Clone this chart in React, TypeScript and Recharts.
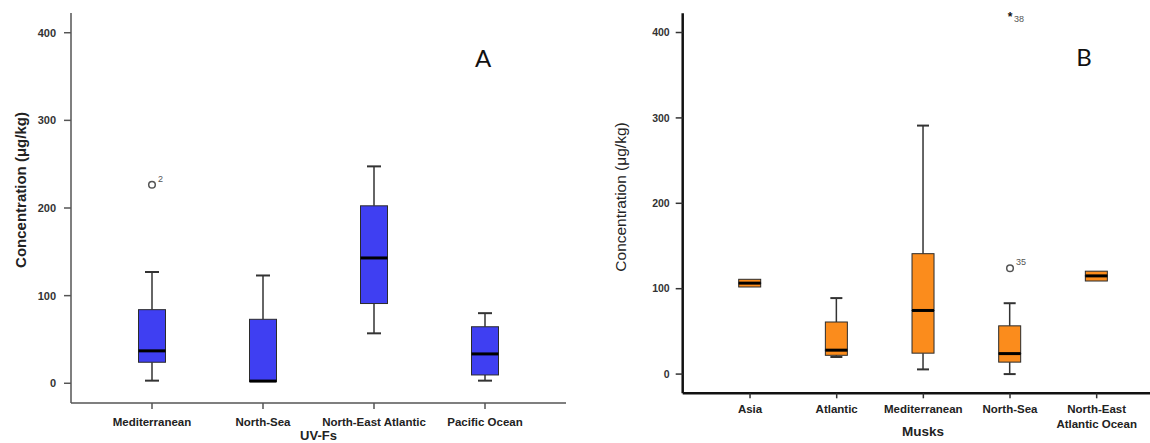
import { ComposedChart, Bar, Line, XAxis, YAxis } from 'recharts';

// Panel A - UV-Fs
const uvCategories = ['Mediterranean', 'North-Sea', 'North-East Atlantic', 'Pacific Ocean'];
const uvMin = [3, 2, 57, 3];
const uvQ1 = [24, 2, 91, 9.5];
const uvMedian = [37, 2.5, 143, 33.5];
const uvQ3 = [84, 73, 202.5, 64.5];
const uvMax = [127, 123, 247.5, 80];
const uvOutliers = [226.5, null, null, null];
const uvOutlierIds = ['2', null, null, null];

// Panel B - Musks
const muskCategories = ['Asia', 'Atlantic', 'Mediterranean', 'North-Sea', 'North-East\nAtlantic Ocean'];
const muskMin = [102, 20, 5.5, 0, 109];
const muskQ1 = [102, 22, 24.5, 14, 109];
const muskMedian = [106.5, 28, 74.5, 24, 115];
const muskQ3 = [111, 61, 141, 56.5, 120.5];
const muskMax = [111, 89, 291, 83, 120.5];
const muskOutliers = [null, null, null, 124, null];
const muskOutlierIds = [null, null, null, '35', null];
const muskExtremes = [null, null, null, 421.5, null];
const muskExtremeIds = [null, null, null, '38', null];

const yTicks = [0, 100, 200, 300, 400];

const FONT = '"Liberation Sans", Arial, sans-serif';

const buildRows = (
	cats: string[],
	min: number[],
	q1: number[],
	med: number[],
	q3: number[],
	max: number[],
	outlier: (number | null)[],
	extreme: (number | null)[],
) =>
	cats.map((name, i) => ({
		name,
		base: min[i],
		whiskerLow: q1[i] - min[i],
		boxLow: med[i] - q1[i],
		boxHigh: q3[i] - med[i],
		whiskerHigh: max[i] - q3[i],
		outlier: outlier[i],
		extreme: extreme[i],
	}));

const uvRows = buildRows(uvCategories, uvMin, uvQ1, uvMedian, uvQ3, uvMax, uvOutliers, uvOutliers.map(() => null));
const muskRows = buildRows(muskCategories, muskMin, muskQ1, muskMedian, muskQ3, muskMax, muskOutliers, muskExtremes);

const whiskerShape = (cap: number, side: 'low' | 'high') => (props: any) => {
	const { x, y, width, height } = props;
	if (!height || height < 0.5) return <g />;
	const cx = x + width / 2;
	const capY = side === 'low' ? y + height : y;
	return (
		<g>
			<line x1={cx} x2={cx} y1={y} y2={y + height} stroke="#333" strokeWidth={1.5} />
			<line x1={cx - cap / 2} x2={cx + cap / 2} y1={capY} y2={capY} stroke="#333" strokeWidth={2} />
		</g>
	);
};

const boxShape = (fill: string, median: boolean) => (props: any) => {
	const { x, y, width, height } = props;
	const h = Math.max(height || 0, 0);
	return (
		<g>
			<rect x={x} y={y} width={width} height={h} fill={fill} stroke="#2b2b2b" strokeWidth={1} />
			{median && <line x1={x} x2={x + width} y1={y + h} y2={y + h} stroke="#000" strokeWidth={3} />}
		</g>
	);
};

const outlierDot = (ids: (string | null)[], kind: 'circle' | 'star') => (props: any) => {
	const { cx, cy, index, value } = props;
	if (value == null || cy == null || isNaN(cy)) return <g key={`${kind}-${index}`} />;
	if (kind === 'circle') {
		return (
			<g key={`${kind}-${index}`}>
				<circle cx={cx} cy={cy} r={3.3} fill="#fff" stroke="#555" strokeWidth={1.5} />
				<text x={cx + 6} y={cy - 3} fontSize={9} fill="#555" fontFamily={FONT}>
					{ids[index]}
				</text>
			</g>
		);
	}
	return (
		<g key={`${kind}-${index}`}>
			<text x={cx} y={cy + 7} fontSize={12} fontWeight="bold" fill="#111" textAnchor="middle" fontFamily={FONT}>
				*
			</text>
			<text x={cx + 4} y={cy + 8} fontSize={9} fill="#555" fontFamily={FONT}>
				{ids[index]}
			</text>
		</g>
	);
};

const CatTick = (props: any) => {
	const { x, y, payload, fontSize } = props;
	const lines = String(payload.value).split('\n');
	return (
		<text x={x} y={y} textAnchor="middle" fontSize={fontSize} fontWeight="bold" fill="#222" fontFamily={FONT}>
			{lines.map((l, i) => (
				<tspan key={i} x={x} dy={i === 0 ? '0.71em' : '1.25em'}>
					{l}
				</tspan>
			))}
		</text>
	);
};

const BoxSeries = (fill: string, size: number, cap: number) => [
	<Bar key="base" dataKey="base" stackId="s" fill="transparent" barSize={size} isAnimationActive={false} />,
	<Bar key="wl" dataKey="whiskerLow" stackId="s" barSize={size} shape={whiskerShape(cap, 'low')} isAnimationActive={false} />,
	<Bar key="bl" dataKey="boxLow" stackId="s" barSize={size} shape={boxShape(fill, false)} isAnimationActive={false} />,
	<Bar key="bh" dataKey="boxHigh" stackId="s" barSize={size} shape={boxShape(fill, true)} isAnimationActive={false} />,
	<Bar key="wh" dataKey="whiskerHigh" stackId="s" barSize={size} shape={whiskerShape(cap, 'high')} isAnimationActive={false} />,
];

const PanelA = () => (
	<ComposedChart width={580} height={443} data={uvRows} margin={{ top: 13, right: 14, left: 0, bottom: 0 }}>
		<XAxis
			dataKey="name"
			height={40}
			interval={0}
			padding={{ left: 25.5, right: 25.5 }}
			axisLine={{ stroke: '#555', strokeWidth: 1.5 }}
			tickLine={{ stroke: '#555', strokeWidth: 1.5 }}
			tickSize={6}
			tickMargin={9}
			tick={(p: any) => <CatTick {...p} fontSize={11.5} />}
		/>
		<XAxis xAxisId="top" dataKey="name" orientation="top" height={0} tick={false} tickLine={false} axisLine={{ stroke: '#555', strokeWidth: 1.5 }} />
		<YAxis
			type="number"
			domain={[-22.5, 422.5]}
			ticks={yTicks}
			width={71}
			axisLine={{ stroke: '#555', strokeWidth: 1.5 }}
			tickLine={{ stroke: '#555', strokeWidth: 1.5 }}
			tickSize={7}
			tickMargin={8}
			tick={{ fontSize: 11, fontWeight: 'bold', fill: '#333', fontFamily: FONT }}
		/>
		<YAxis yAxisId="right" orientation="right" width={0} domain={[0, 1]} tick={false} tickLine={false} axisLine={{ stroke: '#555', strokeWidth: 1.5 }} />
		{BoxSeries('#3f3ff2', 27, 14)}
		<Line dataKey="outlier" stroke="none" dot={outlierDot(uvOutlierIds, 'circle')} activeDot={false} legendType="none" isAnimationActive={false} />
		<text x={20} y={190} transform="rotate(-90 20 190)" textAnchor="middle" dominantBaseline="central" fontSize={15} fontWeight="bold" fill="#222" fontFamily={FONT}>
			Concentration (μg/kg)
		</text>
		<text x={318.5} y={435} textAnchor="middle" dominantBaseline="central" fontSize={13} fontWeight="bold" fill="#222" fontFamily={FONT}>
			UV-Fs
		</text>
		<text x={483} y={57} textAnchor="middle" dominantBaseline="central" fontSize={24} fill="#111" fontFamily="Lato, sans-serif">
			A
		</text>
	</ComposedChart>
);

const PanelB = () => (
	<ComposedChart width={600} height={443} data={muskRows} margin={{ top: 13.3, right: 16, left: 0, bottom: 0 }}>
		<XAxis
			dataKey="name"
			height={49.7}
			interval={0}
			padding={{ left: 24, right: 24 }}
			axisLine={{ stroke: '#111', strokeWidth: 2.5 }}
			tickLine={{ stroke: '#333', strokeWidth: 1.5 }}
			tickSize={5}
			tickMargin={7}
			tick={(p: any) => <CatTick {...p} fontSize={11.5} />}
		/>
		<XAxis xAxisId="top" dataKey="name" orientation="top" height={0} tick={false} tickLine={false} axisLine={{ stroke: '#888', strokeWidth: 1.5 }} />
		<YAxis
			type="number"
			domain={[-22.5, 422.5]}
			ticks={yTicks}
			width={102.7}
			axisLine={{ stroke: '#111', strokeWidth: 2.5 }}
			tickLine={{ stroke: '#333', strokeWidth: 1.5 }}
			tickSize={7}
			tickMargin={6}
			tick={{ fontSize: 10.5, fontWeight: 'bold', fill: '#333', fontFamily: FONT }}
		/>
		<YAxis yAxisId="right" orientation="right" width={0} domain={[0, 1]} tick={false} tickLine={false} axisLine={{ stroke: '#888', strokeWidth: 1.5 }} />
		{BoxSeries('#fb8c1c', 22, 12)}
		<Line dataKey="outlier" stroke="none" dot={outlierDot(muskOutlierIds, 'circle')} activeDot={false} legendType="none" isAnimationActive={false} />
		<Line dataKey="extreme" stroke="none" dot={outlierDot(muskExtremeIds, 'star')} activeDot={false} legendType="none" isAnimationActive={false} />
		<text x={40} y={197} transform="rotate(-90 40 197)" textAnchor="middle" dominantBaseline="central" fontSize={15.5} fill="#222" fontFamily={FONT}>
			Concentration (μg/kg)
		</text>
		<text x={343} y={431} textAnchor="middle" dominantBaseline="central" fontSize={13.5} fontWeight="bold" fill="#222" fontFamily={FONT}>
			Musks
		</text>
		<text x={504} y={56} textAnchor="middle" dominantBaseline="central" fontSize={24} fill="#111" fontFamily="Lato, sans-serif">
			B
		</text>
	</ComposedChart>
);

const App = () => (
	<div style={{ position: 'absolute', left: 0, top: 0, width: 1150, height: 443, overflow: 'hidden', background: '#fff' }}>
		<div style={{ position: 'absolute', left: 0, top: 0 }}>
			<PanelA />
		</div>
		<div style={{ position: 'absolute', left: 580, top: 0 }}>
			<PanelB />
		</div>
	</div>
);

export default App;
